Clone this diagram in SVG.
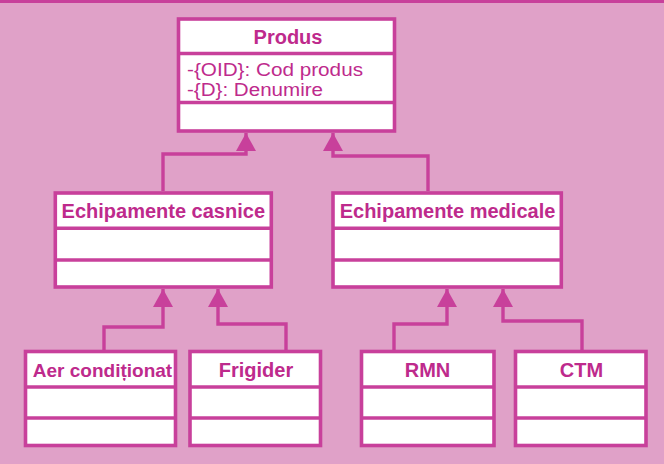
<svg xmlns="http://www.w3.org/2000/svg" width="664" height="464" viewBox="0 0 664 464">
<style>
.bg{fill:#E0A1C8}
.box{fill:#FFFFFF;stroke:#C8409B;stroke-width:3.6}
.sep{stroke:#C8409B;stroke-width:3.6;fill:none}
.conn{stroke:#C8409B;stroke-width:3.4;fill:none;marker-end:url(#tri)}
.title{font-family:"Liberation Sans",Arial,sans-serif;font-weight:bold;font-size:20px;fill:#BE2A8C;text-anchor:middle}
.attr{font-family:"Liberation Sans",Arial,sans-serif;font-size:18px;fill:#BE2A8C}
</style>
<defs>
<marker id="tri" viewBox="0 0 18 20" refX="18" refY="10" markerWidth="18" markerHeight="20" markerUnits="userSpaceOnUse" orient="auto">
<path d="M0,0 L18,10 L0,20 Z" fill="#C8409B"/>
</marker>
</defs>
<rect class="bg" x="0" y="0" width="664" height="464"/>
<line x1="0" y1="1.5" x2="664" y2="1.5" stroke="#C8409B" stroke-width="3"/>
<g id="connectors">
<path class="conn" d="M163,191 V154 H246 V133"/>
<path class="conn" d="M428,191 V156 H333 V133"/>
<path class="conn" d="M104,350 V327 H163 V289"/>
<path class="conn" d="M286,350 V324 H218 V289"/>
<path class="conn" d="M394,350 V324 H447 V289"/>
<path class="conn" d="M582,350 V321 H503 V289"/>
</g>
<g id="produs">
<rect class="box" x="178.5" y="19" width="216" height="112"/>
<line class="sep" x1="178.5" y1="53.5" x2="394.5" y2="53.5"/>
<line class="sep" x1="178.5" y1="102.5" x2="394.5" y2="102.5"/>
<text class="title" x="288" y="44">Produs</text>
<text class="attr" x="187" y="76" textLength="176" lengthAdjust="spacingAndGlyphs">-{OID}: Cod produs</text>
<text class="attr" x="187" y="96" textLength="136" lengthAdjust="spacingAndGlyphs">-{D}: Denumire</text>
</g>
<g id="echipamente-casnice">
<rect class="box" x="55.3" y="193" width="216" height="94"/>
<line class="sep" x1="55.3" y1="228.3" x2="271.3" y2="228.3"/>
<line class="sep" x1="55.3" y1="260" x2="271.3" y2="260"/>
<text class="title" x="163.3" y="218">Echipamente casnice</text>
</g>
<g id="echipamente-medicale">
<rect class="box" x="333" y="193" width="228.3" height="94"/>
<line class="sep" x1="333" y1="228.3" x2="561.3" y2="228.3"/>
<line class="sep" x1="333" y1="260" x2="561.3" y2="260"/>
<text class="title" x="447.5" y="218">Echipamente medicale</text>
</g>
<g id="aer-conditionat">
<rect class="box" x="25.5" y="351.5" width="150" height="94"/>
<line class="sep" x1="25.5" y1="387" x2="175.5" y2="387"/>
<line class="sep" x1="25.5" y1="418" x2="175.5" y2="418"/>
<text class="title" x="102.5" y="377" style="font-size:19px">Aer condiționat</text>
</g>
<g id="frigider">
<rect class="box" x="190" y="351.5" width="130.5" height="94"/>
<line class="sep" x1="190" y1="387" x2="320.5" y2="387"/>
<line class="sep" x1="190" y1="418" x2="320.5" y2="418"/>
<text class="title" x="256" y="377">Frigider</text>
</g>
<g id="rmn">
<rect class="box" x="361.5" y="351.5" width="132.5" height="94"/>
<line class="sep" x1="361.5" y1="387" x2="494" y2="387"/>
<line class="sep" x1="361.5" y1="418" x2="494" y2="418"/>
<text class="title" x="427.5" y="377">RMN</text>
</g>
<g id="ctm">
<rect class="box" x="515.5" y="351.5" width="130.5" height="94"/>
<line class="sep" x1="515.5" y1="387" x2="646" y2="387"/>
<line class="sep" x1="515.5" y1="418" x2="646" y2="418"/>
<text class="title" x="581.5" y="377">CTM</text>
</g>
</svg>
